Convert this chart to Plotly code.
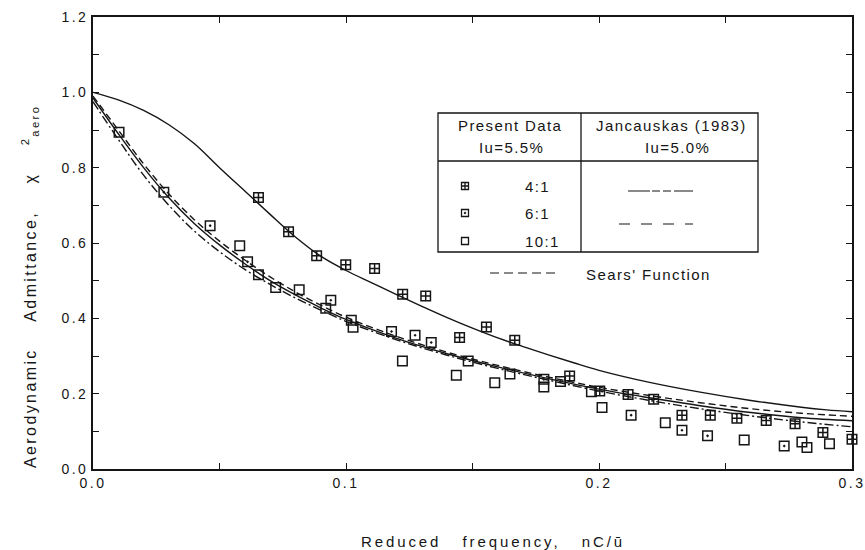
import plotly.graph_objects as go

# ---------------- data ----------------
# Present data, aspect ratio 4:1 (square with cross)
x_41 = [0.0654, 0.0773, 0.0884, 0.0999, 0.1113, 0.1224, 0.1315, 0.1449, 0.1555, 0.1667,
        0.1884, 0.2003, 0.2115, 0.2216, 0.2328, 0.2440, 0.2545, 0.2661, 0.2775, 0.2885, 0.3000]
y_41 = [0.721, 0.630, 0.566, 0.542, 0.532, 0.464, 0.459, 0.349, 0.377, 0.342,
        0.247, 0.207, 0.198, 0.185, 0.143, 0.143, 0.135, 0.129, 0.120, 0.097, 0.079]

# Present data, aspect ratio 6:1 (square with dot)
x_61 = [0.0280, 0.0463, 0.0611, 0.0940, 0.1021, 0.1180, 0.1273, 0.1337, 0.1782, 0.1848,
        0.2127, 0.2328, 0.2429, 0.2732]
y_61 = [0.735, 0.646, 0.550, 0.448, 0.395, 0.365, 0.355, 0.336, 0.238, 0.232,
        0.143, 0.103, 0.088, 0.061]

# Present data, aspect ratio 10:1 (open square)
x_101 = [0.0103, 0.0580, 0.0654, 0.0722, 0.0815, 0.0920, 0.1028, 0.1223, 0.1436, 0.1483,
         0.1588, 0.1648, 0.1782, 0.1970, 0.2012, 0.2262, 0.2574, 0.2802, 0.2822, 0.2911]
y_101 = [0.894, 0.593, 0.516, 0.482, 0.476, 0.427, 0.376, 0.287, 0.249, 0.287,
         0.229, 0.252, 0.218, 0.205, 0.163, 0.123, 0.077, 0.072, 0.057, 0.067]

# Jancauskas (1983), 4:1 (upper solid curve)
x_j41 = [0, 0.01, 0.02, 0.03, 0.04, 0.05, 0.06, 0.07, 0.08, 0.09, 0.10, 0.11, 0.12, 0.13,
         0.14, 0.15, 0.16, 0.17, 0.18, 0.19, 0.20, 0.22, 0.24, 0.26, 0.28, 0.29, 0.30]
y_j41 = [1.0, 0.98, 0.952, 0.914, 0.864, 0.80, 0.738, 0.676, 0.616, 0.565, 0.527, 0.495, 0.463,
         0.432, 0.402, 0.374, 0.348, 0.325, 0.303, 0.282, 0.262, 0.230, 0.204, 0.182, 0.164,
         0.157, 0.152]

# lower group of curves
x_low = [0, 0.01, 0.02, 0.03, 0.04, 0.05, 0.06, 0.07, 0.08, 0.09, 0.10,
         0.12, 0.14, 0.16, 0.18, 0.20, 0.22, 0.24, 0.26, 0.28, 0.30]
y_solid_low = [0.985, 0.89, 0.80, 0.72, 0.652, 0.595, 0.545, 0.50, 0.462, 0.428, 0.397,
               0.347, 0.306, 0.271, 0.240, 0.212, 0.189, 0.168, 0.150, 0.136, 0.128]
y_dashdot = [0.975, 0.875, 0.78, 0.70, 0.632, 0.577, 0.53, 0.49, 0.454, 0.422, 0.392,
             0.343, 0.302, 0.267, 0.236, 0.207, 0.182, 0.160, 0.141, 0.125, 0.112]
y_sears = [0.99, 0.90, 0.81, 0.73, 0.662, 0.605, 0.555, 0.51, 0.47, 0.435, 0.403,
           0.352, 0.31, 0.275, 0.244, 0.217, 0.195, 0.176, 0.160, 0.148, 0.140]

x_tickvals = [0, 0.10, 0.20, 0.30]
x_ticktext = ["0.0", "0.1", "0.2", "0.3"]
x_minor = [0.05, 0.15, 0.25]
y_tickvals = [0, 0.2, 0.4, 0.6, 0.8, 1.0, 1.2]
y_ticktext = ["0.0", "0.2", "0.4", "0.6", "0.8", "1.0", "1.2"]
y_minor = [0.1, 0.3, 0.5, 0.7, 0.9, 1.1]

legend_rows = ["4:1", "6:1", "10:1"]

# ---------------- layout helpers ----------------
W, H = 865, 550
L, R, T, B = 93, 13, 17, 81
PW, PH = W - L - R, H - T - B
XMAX, YMAX = 0.3, 1.2
FONT = "Liberation Sans, Arial, Helvetica, sans-serif"
INK = "#151515"


def px(xp):
    return (xp - L) / PW


def py(yp):
    return (H - B - yp) / PH


def sp(t, ls):
    return f'<span style="letter-spacing:{ls}px">{t}</span>'


fig = go.Figure()

line_w = 1.4
fig.add_trace(go.Scatter(x=x_j41, y=y_j41, mode="lines", line=dict(color=INK, width=line_w, shape="spline")))
fig.add_trace(go.Scatter(x=x_low, y=y_solid_low, mode="lines", line=dict(color=INK, width=line_w, shape="spline")))
fig.add_trace(go.Scatter(x=x_low, y=y_dashdot, mode="lines",
                         line=dict(color=INK, width=line_w, shape="spline", dash="9px,3px,2px,3px")))
fig.add_trace(go.Scatter(x=x_low, y=y_sears, mode="lines",
                         line=dict(color=INK, width=line_w, shape="spline", dash="7px,4px")))

mk = dict(size=9.5, color=INK, line=dict(color=INK, width=1.5))
fig.add_trace(go.Scatter(x=x_41, y=y_41, mode="markers", cliponaxis=False,
                         marker=dict(symbol="square-cross-open", **mk)))
fig.add_trace(go.Scatter(x=x_61, y=y_61, mode="markers", cliponaxis=False,
                         marker=dict(symbol="square-open-dot", **mk)))
fig.add_trace(go.Scatter(x=x_101, y=y_101, mode="markers", cliponaxis=False,
                         marker=dict(symbol="square-open", **mk)))

# legend-table sample markers (placed in the legend box)
leg_sym = ["square-cross-open", "square-open-dot", "square-open"]
for yy, s in zip([186, 213, 241], leg_sym):
    fig.add_trace(go.Scatter(x=[px(465) * XMAX], y=[py(yy) * YMAX], mode="markers",
                             marker=dict(symbol=s, size=7, color=INK, line=dict(color=INK, width=1.3))))

shapes = []
lw = 1.3
shapes.append(dict(type="rect", xref="paper", yref="paper", x0=px(438), x1=px(758), y0=py(113), y1=py(252),
                   line=dict(color=INK, width=lw)))
shapes.append(dict(type="line", xref="paper", yref="paper", x0=px(581), x1=px(581), y0=py(113), y1=py(252),
                   line=dict(color=INK, width=lw)))
shapes.append(dict(type="line", xref="paper", yref="paper", x0=px(438), x1=px(758), y0=py(161), y1=py(161),
                   line=dict(color=INK, width=lw)))
shapes.append(dict(type="line", xref="paper", yref="paper", x0=px(628), x1=px(693), y0=py(191), y1=py(191),
                   line=dict(color=INK, width=1.2, dash="22px,2px,8px,3px,8px,3px")))
shapes.append(dict(type="line", xref="paper", yref="paper", x0=px(619), x1=px(693), y0=py(224), y1=py(224),
                   line=dict(color=INK, width=1.2, dash="11px,11px")))
shapes.append(dict(type="line", xref="paper", yref="paper", x0=px(490), x1=px(556), y0=py(273), y1=py(273),
                   line=dict(color=INK, width=1.2, dash="9px,5px")))

ann = []
lf = dict(family=FONT, size=15, color=INK)


def add_text(t, xp, yp, xanchor="center", ls=1.4, font=lf, **kw):
    ann.append(dict(text=sp(t, ls), x=px(xp), y=py(yp), xref="paper", yref="paper", showarrow=False,
                    xanchor=xanchor, yanchor="middle", font=font, **kw))


add_text("Present Data", 510, 125)
add_text("Iu=5.5%", 512, 147)
add_text("Jancauskas (1983)", 671, 125)
add_text("Iu=5.0%", 677, 147)
for lab, yy in zip(legend_rows, [186, 213, 241]):
    add_text(lab, 523, yy, xanchor="left")
add_text("Sears' Function", 584, 274, xanchor="left")

tf = dict(family=FONT, size=16, color=INK)
add_text("Reduced\u00a0\u00a0 frequency,\u00a0\u00a0 nC/\u016b", 493, 541, ls=2.9,
         font=dict(family=FONT, size=15, color=INK))
add_text("Aerodynamic\u00a0\u00a0\u00a0 Admittance,\u00a0\u00a0\u00a0 \u03c7\u00a0\u00a0\u00a0 <sup>2</sup><sub>aero</sub>",
         30, 287, ls=2.4, font=tf, textangle=-90)

tickfont = dict(family=FONT, size=14, color=INK)
minor_x = dict(tickvals=x_minor, ticks="inside", ticklen=6, tickwidth=1.3, tickcolor=INK)
minor_y = dict(tickvals=y_minor, ticks="inside", ticklen=6, tickwidth=1.3, tickcolor=INK)
fig.update_layout(
    width=W, height=H,
    margin=dict(l=L, r=R, t=T, b=B, autoexpand=False),
    paper_bgcolor="white", plot_bgcolor="white",
    showlegend=False,
    shapes=shapes, annotations=ann,
    xaxis=dict(range=[0, XMAX], showgrid=False, zeroline=False, showline=True, linecolor=INK, linewidth=1.6,
               mirror="ticks", ticks="inside", ticklen=6, tickwidth=1.3, tickcolor=INK,
               tickvals=x_tickvals, ticktext=[sp(t, 2.5) for t in x_ticktext], tickfont=tickfont,
               ticklabeloverflow="allow", automargin=False, minor=minor_x),
    yaxis=dict(range=[0, YMAX], showgrid=False, zeroline=False, showline=True, linecolor=INK, linewidth=1.6,
               mirror="ticks", ticks="inside", ticklen=6, tickwidth=1.3, tickcolor=INK,
               tickvals=y_tickvals, ticktext=[sp(t, 2.5) for t in y_ticktext], tickfont=tickfont,
               ticklabeloverflow="allow", automargin=False, minor=minor_y),
)

fig.write_html("out.html", config={"displayModeBar": False},
               post_script="document.body.style.margin='0';document.body.style.overflow='hidden';")
